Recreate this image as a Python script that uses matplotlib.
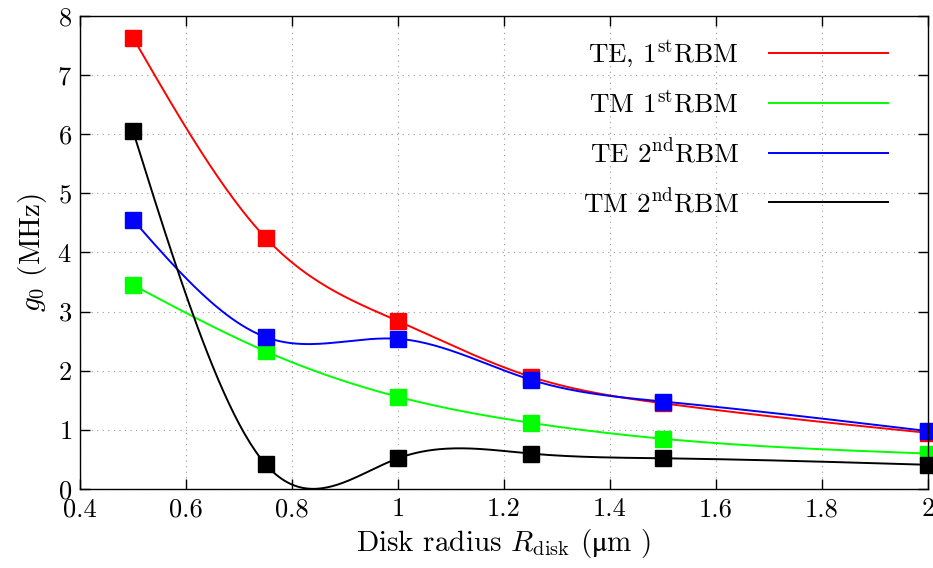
import matplotlib
import numpy as np

matplotlib.use("Agg")
import matplotlib.pyplot as plt

# disk radius (um) and coupling g0 (MHz)
radius = [0.5, 0.75, 1.0, 1.25, 1.5, 2.0]
te_1st = [7.63, 4.25, 2.84, 1.90, 1.45, 0.95]
tm_1st = [3.45, 2.33, 1.56, 1.12, 0.85, 0.60]
te_2nd = [4.55, 2.57, 2.54, 1.85, 1.48, 0.98]
tm_2nd = [6.05, 0.42, 0.52, 0.60, 0.52, 0.41]

labels = [r"TE, 1$^{\mathrm{st}}$RBM", r"TM 1$^{\mathrm{st}}$RBM",
          r"TE 2$^{\mathrm{nd}}$RBM", r"TM 2$^{\mathrm{nd}}$RBM"]
colors = ["#ff0000", "#00ff00", "#0000ff", "#000000"]


def natural_spline(x, y, n=300):
    # natural cubic spline, like gnuplot "smooth csplines"
    x = np.asarray(x, float)
    y = np.asarray(y, float)
    k = len(x)
    h = np.diff(x)
    A = np.zeros((k, k))
    b = np.zeros(k)
    A[0, 0] = A[-1, -1] = 1.0
    for i in range(1, k - 1):
        A[i, i - 1] = h[i - 1]
        A[i, i] = 2 * (h[i - 1] + h[i])
        A[i, i + 1] = h[i]
        b[i] = 3 * ((y[i + 1] - y[i]) / h[i] - (y[i] - y[i - 1]) / h[i - 1])
    c = np.linalg.solve(A, b)
    xs = np.linspace(x[0], x[-1], n)
    idx = np.clip(np.searchsorted(x, xs) - 1, 0, k - 2)
    dx = xs - x[idx]
    hi = h[idx]
    bi = (y[idx + 1] - y[idx]) / hi - hi * (2 * c[idx] + c[idx + 1]) / 3
    di = (c[idx + 1] - c[idx]) / (3 * hi)
    ys = y[idx] + bi * dx + c[idx] * dx ** 2 + di * dx ** 3
    return xs, ys


plt.rcParams["font.family"] = ["cmr10", "DejaVu Serif"]
plt.rcParams["mathtext.fontset"] = "cm"
plt.rcParams["axes.formatter.use_mathtext"] = True

fig = plt.figure(figsize=(9.33, 5.68), dpi=100)
ax = fig.add_axes([0.0858, 0.139, 0.9088, 0.833])

series = [te_1st, tm_1st, te_2nd, tm_2nd]
handles = []
for vals, col, lab in zip(series, colors, labels):
    xs, ys = natural_spline(radius, vals)
    line, = ax.plot(xs, ys, color=col, linewidth=1.4, label=lab)
    ax.plot(radius, vals, "s", color=col, markersize=12, clip_on=False)
    handles.append(line)

ax.set_xlim(0.4, 2.0)
ax.set_ylim(0, 8)
ax.set_xticks(np.arange(0.4, 2.01, 0.2))
ax.set_xticklabels(["0.4", "0.6", "0.8", "1", "1.2", "1.4", "1.6", "1.8", "2"])
ax.set_yticks(range(0, 9))
ax.tick_params(direction="in", top=True, right=True, labelsize=19, length=7, width=1, pad=6)
ax.grid(True, linestyle=(0, (1, 4)), color="#999999", linewidth=0.8)
for sp in ax.spines.values():
    sp.set_linewidth(1.0)

ax.set_xlabel(r"Disk radius $R_{\mathrm{disk}}$ ($\mathrm{μ}$m )", fontsize=21, labelpad=4)
ax.set_ylabel(r"$g_0$ (MHz)", fontsize=21, labelpad=6)

ax.legend(handles=handles, loc="upper right", bbox_to_anchor=(888 / 933, 1 - 38 / 568),
          bbox_transform=fig.transFigure, frameon=False, markerfirst=False,
          fontsize=19.5, handlelength=4.4, handletextpad=1.1, labelspacing=0.76,
          borderpad=0, borderaxespad=0)

fig.savefig("out.png", dpi=100)
plt.close(fig)
